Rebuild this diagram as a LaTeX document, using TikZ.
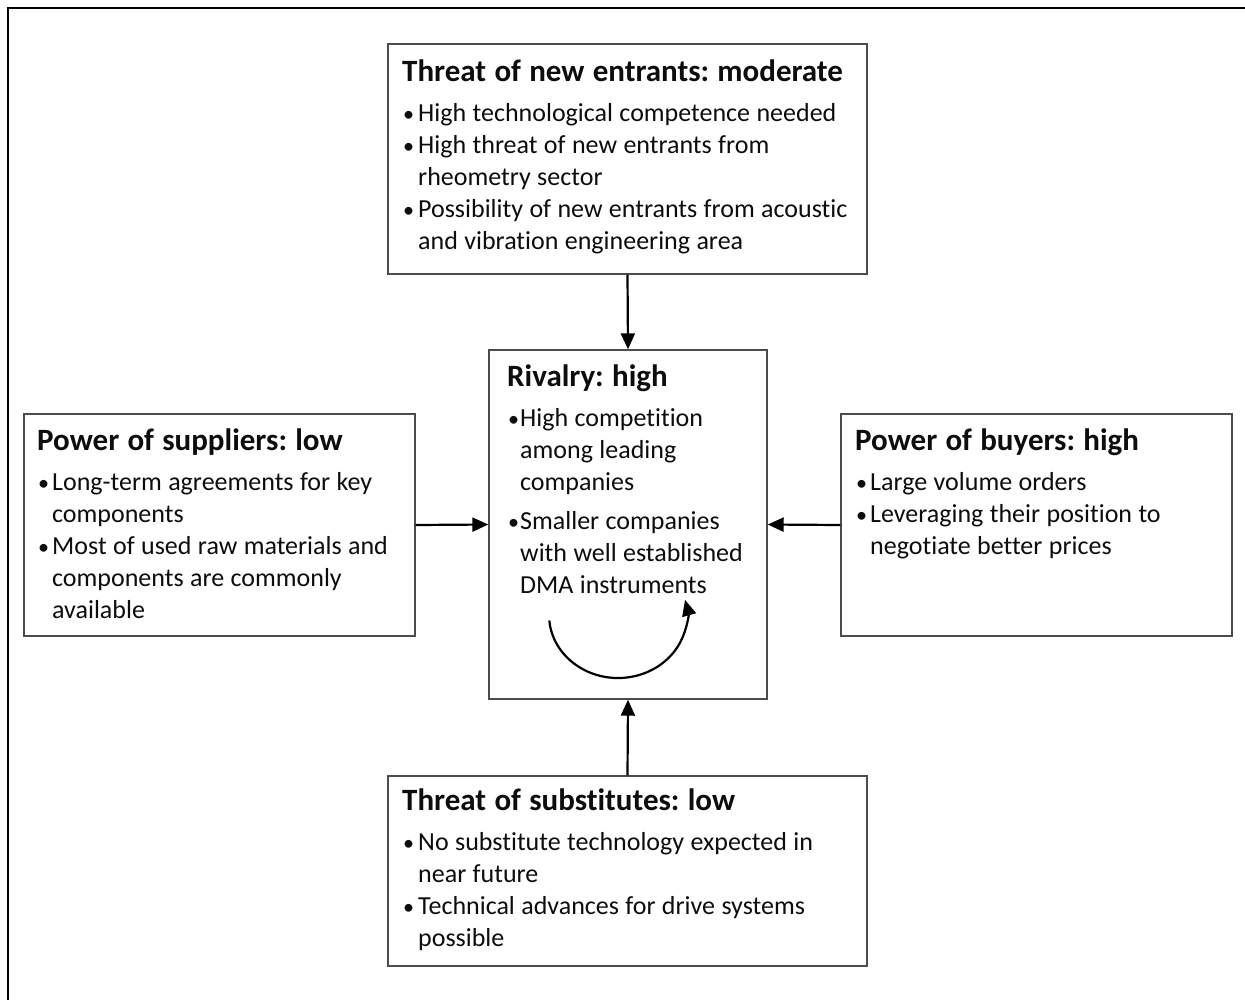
\documentclass[tikz,border=0pt]{standalone}
\usepackage{fontspec}
\setmainfont{Carlito}[Ligatures=NoCommon]
\usetikzlibrary{arrows.meta}
\frenchspacing

% body text: size, line pitch and a slightly tighter word space
\newcommand\bodyfont{\fontsize{26}{32}\selectfont}
\newlength\bind
\newcommand\boxtitle[1]{{\spaceskip=8.3pt\fontsize{31}{32}\selectfont\bfseries\rule{0pt}{22pt}#1\par}\vspace{8pt}}
\newcommand\bitem[1]{\hangindent=\bind\hangafter=1\noindent\makebox[\bind][l]{\hspace{1pt}\scalebox{0.85}{\textbullet}}#1\par}
\newcommand\boxsetup[1]{\setlength\bind{#1}\setlength\spaceskip{6.4pt}}

\tikzset{
  forcebox/.style={draw=black!70, line width=1.4pt, rectangle, inner sep=0pt, fill=white},
  forcetext/.style={anchor=north west, inner sep=0pt, text width=600pt, align=left,
                    text=black!95, font=\bodyfont},
  force/.style={line width=2.2pt, black, -{Triangle[length=16pt,width=14pt]}},
}

\begin{document}
\begin{tikzpicture}[x=1pt, y=-1pt]
  \useasboundingbox (0,0) rectangle (1245,999);
  % outer frame (left and top edges)
  \draw[line width=2.5pt, line cap=rect] (8,999) -- (8,8) -- (1245,8);

  % boxes
  \node[forcebox, minimum width=479pt, minimum height=230pt] (ent) at (627.5,159) {};
  \node[forcebox, minimum width=278pt, minimum height=349pt] (riv) at (628,524.5) {};
  \node[forcebox, minimum width=391pt, minimum height=222pt] (sup) at (219.5,525) {};
  \node[forcebox, minimum width=391pt, minimum height=222pt] (buy) at (1036.5,525) {};
  \node[forcebox, minimum width=479pt, minimum height=190pt] (sub) at (627.5,871) {};

  % box contents
  \node[forcetext] (enttext) at (402,59) {\boxsetup{16pt}%
    \boxtitle{Threat of new entrants: moderate}%
    \bitem{High technological competence needed}%
    \bitem{High threat of new entrants from\newline rheometry sector}%
    \bitem{Possibility of new entrants from acoustic\newline and vibration engineering area}};

  \node[forcetext] (rivtext) at (507,364) {\boxsetup{13pt}%
    \boxtitle{Rivalry: high}%
    \bitem{High competition\newline among leading\newline companies}\vspace{7pt}%
    \bitem{Smaller companies\newline with well established\newline DMA instruments}};

  \node[forcetext] (suptext) at (37,428) {\boxsetup{15pt}%
    \boxtitle{Power of suppliers: low}%
    \bitem{Long-term agreements for key\newline components}%
    \bitem{Most of used raw materials and\newline components are commonly\newline available}};

  \node[forcetext] (buytext) at (855,428) {\boxsetup{15pt}%
    \boxtitle{Power of buyers: high}%
    \bitem{Large volume orders}%
    \bitem{Leveraging their position to\newline negotiate better prices}};

  \node[forcetext] (subtext) at (402,788) {\boxsetup{16pt}%
    \boxtitle{Threat of substitutes: low}%
    \bitem{No substitute technology expected in\newline near future}%
    \bitem{Technical advances for drive systems\newline possible}};

  % forces acting on the rivalry
  \draw[force] (ent.south) -- (riv.north);
  \draw[force] (sup.east) -- (riv.west);
  \draw[force] (buy.west) -- (riv.east);
  \draw[force] (sub.north) -- (riv.south);

  % circular rivalry arrow
  \coordinate (loopstart) at (549.3,620.5);
  \draw[force] (loopstart) arc[start angle=185, end angle=374, x radius=69pt, y radius=63pt];
\end{tikzpicture}
\end{document}
